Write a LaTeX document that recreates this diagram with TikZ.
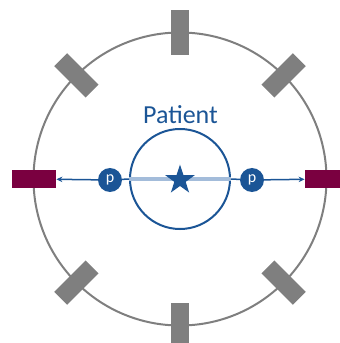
\documentclass[tikz,border=0pt]{standalone}
\usepackage{fontspec}
\setmainfont{Carlito}
\usepackage{tikz}
\usetikzlibrary{arrows.meta, positioning, shapes.geometric}
\usepackage{xcolor}
\definecolor{ringgray}{HTML}{7F7F7F}
\definecolor{petblue}{HTML}{1B5596}
\definecolor{beamblue}{HTML}{A3BCDA}
\definecolor{hitred}{HTML}{7A0040}

\begin{document}
\begin{tikzpicture}[
    x=1pt, y=1pt,
    detector/.style={rectangle, fill=ringgray, minimum width=44.4pt, minimum height=18.3pt, inner sep=0pt},
    hit/.style={detector, fill=hitred},
    photon/.style={circle, fill=petblue, text=white, minimum size=24pt, inner sep=0pt, font=\fontsize{16}{16}\selectfont},
    arrow/.style={-{Stealth[length=6pt, width=5.5pt]}, line width=1.5pt, draw=petblue}
]
\useasboundingbox (-180,-164) rectangle (160,179);

% Detector ring
\node (ring) [circle, draw=ringgray, line width=2pt, minimum size=293pt, inner sep=0pt] at (0,0) {};
\foreach \a in {45,90,135,225,270,315}
  \node (det\a) [detector, rotate=\a] at (\a:146.5) {};
\node (detL) [hit] at (180:146) {};
\node (detR) [hit] at (0:147) {};

% Patient and annihilation point
\node (patient) [circle, draw=petblue, line width=2pt, minimum size=100pt, inner sep=0pt] at (0,0) {};
\node (label) [anchor=base, text=petblue, font=\fontsize{26}{26}\selectfont] at (0.5,55.7) {Patient};
\draw[beamblue, line width=3pt] (patient.west) -- (patient.east);
\node (src) [star, star points=5, star point ratio=2.6, fill=petblue, minimum size=31pt, inner sep=0pt] at (0,-1) {};

% Photon pair
\node (pL) [photon] at (-70,-1) {p};
\node (pR) [photon] at (72,-1) {p};
\draw[petblue, line width=1.5pt] (pL) -- (patient.west);
\draw[petblue, line width=1.5pt] (patient.east) -- (pR);
\draw[arrow] (pL) -- (detL);
\draw[arrow] (pR) -- (detR);

\end{tikzpicture}
\end{document}
